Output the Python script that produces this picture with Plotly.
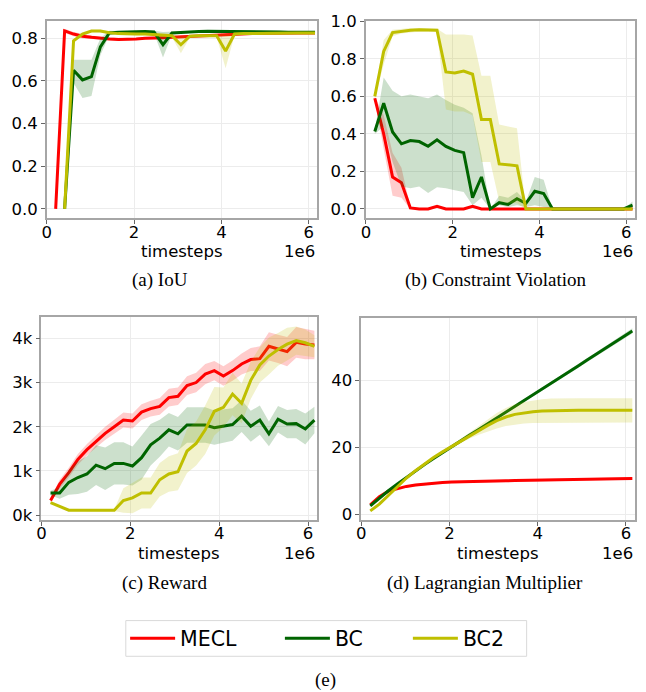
import plotly.graph_objects as go

# The page body has an 8px default margin, so the figure is drawn 8px in from the
# top-left corner; size it to fill the rest of the 646x692 window exactly.
OFF = 8
FIG_W, FIG_H = 646 - OFF, 692 - OFF
FONT = "DejaVu Sans"
SERIF = "Liberation Serif"

# ---------------- data ----------------
TIMESTEPS = [204800, 409600, 614400, 819200, 1024000, 1228800, 1433600, 1638400,
             1843200, 2048000, 2252800, 2457600, 2662400, 2867200, 3072000, 3276800,
             3481600, 3686400, 3891200, 4096000, 4300800, 4505600, 4710400, 4915200,
             5120000, 5324800, 5529600, 5734400, 5939200, 6144000]
X_TICKS = [0, 2000000, 4000000, 6000000]
X_TICK_LABELS = ["0", "2", "4", "6"]

METHODS = ["MECL", "BC", "BC2"]

IOU_TICKS = [0.0, 0.2, 0.4, 0.6, 0.8]
IOU_TICK_LABELS = ["0.0", "0.2", "0.4", "0.6", "0.8"]
CV_TICKS = [0.0, 0.2, 0.4, 0.6, 0.8, 1.0]
CV_TICK_LABELS = ["0.0", "0.2", "0.4", "0.6", "0.8", "1.0"]
REWARD_TICKS = [0, 1000, 2000, 3000, 4000]
REWARD_TICK_LABELS = ["0k", "1k", "2k", "3k", "4k"]
LAG_TICKS = [0, 20, 40]
LAG_TICK_LABELS = ["0", "20", "40"]

# (a) IoU
MECL_IOU = [0.0, 0.835, 0.82, 0.81, 0.805, 0.80, 0.797, 0.795, 0.795, 0.797, 0.80, 0.80, 0.803, 0.805, 0.807,
            0.81, 0.812, 0.815, 0.817, 0.82, 0.82, 0.822, 0.823, 0.824, 0.825, 0.825, 0.825, 0.825, 0.825, 0.825]
MECL_IOU_LO = [0.0, 0.825, 0.81, 0.80, 0.797, 0.793, 0.79, 0.79, 0.79, 0.792, 0.795, 0.795, 0.798, 0.80, 0.802,
               0.805, 0.807, 0.81, 0.812, 0.815, 0.815, 0.817, 0.818, 0.819, 0.82, 0.82, 0.82, 0.82, 0.82, 0.82]
MECL_IOU_HI = [0.0, 0.845, 0.83, 0.82, 0.813, 0.807, 0.804, 0.80, 0.80, 0.802, 0.805, 0.805, 0.808, 0.81, 0.812,
               0.815, 0.817, 0.82, 0.822, 0.825, 0.825, 0.827, 0.828, 0.829, 0.83, 0.83, 0.83, 0.83, 0.83, 0.83]
BC_IOU = [None, 0.0, 0.65, 0.605, 0.62, 0.76, 0.825, 0.828, 0.83, 0.83, 0.832, 0.83, 0.77, 0.825, 0.828,
          0.83, 0.832, 0.833, 0.833, 0.833, 0.833, 0.832, 0.831, 0.83, 0.83, 0.83, 0.829, 0.829, 0.829, 0.829]
BC_IOU_LO = [None, 0.0, 0.59, 0.52, 0.53, 0.72, 0.815, 0.822, 0.825, 0.825, 0.826, 0.824, 0.71, 0.818, 0.822,
             0.825, 0.827, 0.828, 0.828, 0.828, 0.828, 0.827, 0.826, 0.825, 0.825, 0.825, 0.824, 0.824, 0.824, 0.824]
BC_IOU_HI = [None, 0.0, 0.70, 0.70, 0.70, 0.80, 0.835, 0.834, 0.835, 0.835, 0.838, 0.836, 0.83, 0.832, 0.834,
             0.835, 0.837, 0.838, 0.838, 0.838, 0.838, 0.837, 0.836, 0.835, 0.835, 0.835, 0.834, 0.834, 0.834, 0.834]
BC2_IOU = [None, 0.0, 0.788, 0.82, 0.834, 0.834, 0.826, 0.822, 0.82, 0.82, 0.82, 0.818, 0.815, 0.812, 0.77,
           0.81, 0.812, 0.812, 0.812, 0.74, 0.82, 0.822, 0.823, 0.824, 0.825, 0.825, 0.825, 0.825, 0.825, 0.825]
BC2_IOU_LO = [None, 0.0, 0.78, 0.812, 0.828, 0.828, 0.82, 0.816, 0.814, 0.814, 0.814, 0.812, 0.808, 0.805, 0.73,
              0.804, 0.806, 0.806, 0.806, 0.66, 0.814, 0.816, 0.817, 0.818, 0.819, 0.819, 0.819, 0.819, 0.819, 0.819]
BC2_IOU_HI = [None, 0.0, 0.796, 0.828, 0.84, 0.84, 0.832, 0.828, 0.826, 0.826, 0.826, 0.824, 0.822, 0.819, 0.81,
              0.816, 0.818, 0.818, 0.818, 0.82, 0.826, 0.828, 0.829, 0.83, 0.831, 0.831, 0.831, 0.831, 0.831, 0.831]

# (b) Constraint Violation
MECL_CV = [0.59, 0.40, 0.17, 0.14, 0.005, 0.0, 0.0, 0.014, 0.0, 0.0, 0.0, 0.014, 0.0, 0.0, 0.0,
           0.0, 0.0, 0.0, 0.0, 0.0, 0.0, 0.0, 0.0, 0.0, 0.0, 0.0, 0.0, 0.0, 0.0, 0.0]
MECL_CV_LO = [0.58, 0.32, 0.07, 0.06, 0.0, 0.0, 0.0, 0.005, 0.0, 0.0, 0.0, 0.005, 0.0, 0.0, 0.0,
              0.0, 0.0, 0.0, 0.0, 0.0, 0.0, 0.0, 0.0, 0.0, 0.0, 0.0, 0.0, 0.0, 0.0, 0.0]
MECL_CV_HI = [0.60, 0.50, 0.30, 0.22, 0.01, 0.0, 0.0, 0.02, 0.0, 0.0, 0.0, 0.02, 0.0, 0.0, 0.0,
              0.0, 0.0, 0.0, 0.0, 0.0, 0.0, 0.0, 0.0, 0.0, 0.0, 0.0, 0.0, 0.0, 0.0, 0.0]
BC_CV = [0.413, 0.564, 0.41, 0.347, 0.364, 0.359, 0.334, 0.368, 0.333, 0.312, 0.30, 0.06, 0.17, 0.0, 0.033,
         0.024, 0.054, 0.03, 0.094, 0.082, 0.0, 0.0, 0.0, 0.0, 0.0, 0.0, 0.0, 0.0, 0.0, 0.02]
BC_CV_LO = [0.40, 0.44, 0.25, 0.12, 0.11, 0.12, 0.085, 0.115, 0.11, 0.10, 0.09, 0.02, 0.06, 0.0, 0.02,
            0.01, 0.02, 0.01, 0.02, 0.01, 0.0, 0.0, 0.0, 0.0, 0.0, 0.0, 0.0, 0.0, 0.0, 0.0]
BC_CV_HI = [0.42, 0.70, 0.63, 0.60, 0.61, 0.60, 0.59, 0.61, 0.58, 0.556, 0.54, 0.51, 0.285, 0.0, 0.07,
            0.06, 0.09, 0.04, 0.17, 0.155, 0.0, 0.0, 0.0, 0.0, 0.0, 0.0, 0.0, 0.0, 0.0, 0.04]
BC2_CV = [0.60, 0.84, 0.94, 0.948, 0.953, 0.955, 0.953, 0.953, 0.73, 0.725, 0.735, 0.718, 0.477, 0.477, 0.24,
          0.235, 0.23, 0.0, 0.0, 0.0, 0.0, 0.0, 0.0, 0.0, 0.0, 0.0, 0.0, 0.0, 0.0, 0.0]
BC2_CV_LO = [0.59, 0.77, 0.92, 0.935, 0.94, 0.945, 0.945, 0.945, 0.53, 0.52, 0.52, 0.50, 0.25, 0.25, 0.04,
             0.03, 0.03, 0.0, 0.0, 0.0, 0.0, 0.0, 0.0, 0.0, 0.0, 0.0, 0.0, 0.0, 0.0, 0.0]
BC2_CV_HI = [0.61, 0.90, 0.955, 0.96, 0.965, 0.965, 0.962, 0.96, 0.93, 0.93, 0.93, 0.925, 0.71, 0.71, 0.45,
             0.44, 0.43, 0.0, 0.0, 0.0, 0.0, 0.0, 0.0, 0.0, 0.0, 0.0, 0.0, 0.0, 0.0, 0.0]

# (c) Reward
MECL_R = [330, 700, 960, 1260, 1480, 1670, 1850, 2000, 2150, 2130, 2330, 2410, 2460, 2660, 2690,
          2930, 3000, 3190, 3270, 3150, 3270, 3420, 3520, 3540, 3820, 3760, 3700, 3910, 3870, 3850]
MECL_R_STD = [50, 100, 110, 120, 130, 140, 150, 160, 170, 170, 180, 180, 190, 200, 200,
              210, 220, 230, 220, 220, 230, 240, 260, 280, 320, 320, 330, 350, 340, 320]
BC_R = [500, 500, 740, 850, 930, 1130, 1050, 1170, 1170, 1110, 1300, 1590, 1740, 1930, 1840,
        2040, 2040, 2040, 1980, 2010, 2050, 2240, 2010, 2150, 1840, 2170, 2060, 2070, 1950, 2150]
BC_R_STD = [50, 130, 280, 370, 400, 450, 480, 480, 480, 440, 500, 470, 420, 380, 380,
            400, 400, 400, 390, 380, 370, 360, 350, 330, 280, 300, 320, 330, 350, 300]
BC2_R = [280, 200, 110, 110, 110, 100, 100, 110, 330, 390, 500, 500, 800, 930, 980,
         1450, 1620, 1930, 2350, 2440, 2740, 2530, 3050, 3400, 3600, 3750, 3870, 3950, 3900, 3820]
BC2_R_STD = [20, 20, 20, 20, 20, 20, 20, 20, 280, 350, 350, 350, 380, 400, 420,
             500, 500, 550, 550, 450, 480, 450, 420, 400, 420, 370, 370, 320, 300, 250]

# (d) Lagrangian Multiplier
MECL_L = [2.8, 5.2, 6.9, 7.7, 8.3, 8.7, 9.0, 9.25, 9.45, 9.6, 9.7, 9.8, 9.85, 9.9, 9.95,
          10.0, 10.05, 10.1, 10.15, 10.2, 10.25, 10.3, 10.35, 10.4, 10.45, 10.5, 10.55, 10.6, 10.65, 10.7]
MECL_L_STD = [0.2, 0.25, 0.3, 0.3, 0.3, 0.3, 0.3, 0.3, 0.3, 0.3, 0.3, 0.3, 0.3, 0.3, 0.3,
              0.3, 0.3, 0.3, 0.3, 0.3, 0.3, 0.3, 0.3, 0.3, 0.3, 0.3, 0.3, 0.3, 0.3, 0.3]
BC_L = [2.5, 4.8, 7.0, 9.0, 11.0, 12.9, 14.8, 16.6, 18.4, 20.1, 21.9, 23.6, 25.3, 27.0, 28.7,
        30.4, 32.1, 33.9, 35.6, 37.3, 39.0, 40.8, 42.5, 44.2, 46.0, 47.7, 49.5, 51.2, 53.0, 54.7]
BC_L_STD = [0.2, 0.2, 0.2, 0.2, 0.2, 0.2, 0.2, 0.25, 0.25, 0.25, 0.3, 0.3, 0.3, 0.35, 0.35,
            0.4, 0.4, 0.45, 0.45, 0.5, 0.5, 0.55, 0.55, 0.6, 0.6, 0.65, 0.65, 0.7, 0.75, 0.8]
BC2_L = [1.0, 3.0, 5.6, 8.3, 10.8, 13.0, 15.0, 16.9, 18.6, 20.2, 21.9, 23.5, 25.0, 26.5, 27.9,
         29.0, 29.8, 30.3, 30.6, 30.8, 30.9, 31.0, 31.0, 31.0, 31.0, 31.0, 31.0, 31.0, 31.0, 31.0]
BC2_L_STD = [0.2, 0.2, 0.2, 0.2, 0.2, 0.2, 0.2, 0.2, 0.3, 0.4, 0.6, 0.9, 1.3, 1.8, 2.3,
             2.7, 3.0, 3.2, 3.4, 3.5, 3.6, 3.6, 3.6, 3.6, 3.6, 3.6, 3.6, 3.6, 3.6, 3.6]

CAPTIONS = ["(a) IoU", "(b) Constraint Violation", "(c) Reward", "(d) Lagrangian Multiplier", "(e)"]

# ---------------- styles ----------------
LINE_COLORS = {"MECL": "#ff0000", "BC": "#006400", "BC2": "#bfbf00"}
FILL_COLORS = {"MECL": "rgba(255,0,0,0.2)", "BC": "rgba(0,100,0,0.2)", "BC2": "rgba(191,191,0,0.2)"}
SPINE = "#a6a6a6"
GRID = "#ececec"


def px_x(p):
    """window pixel -> paper x"""
    return (p - OFF) / FIG_W


def px_y(p):
    """window pixel -> paper y"""
    return 1 - (p - OFF) / FIG_H


fig = go.Figure()


def add_series(axn, method, mean, lo, hi, legend=None):
    xs, ms, ls, hs = [], [], [], []
    for x, m, l, h in zip(TIMESTEPS, mean, lo, hi):
        if m is None:
            continue
        xs.append(x); ms.append(m); ls.append(l); hs.append(h)
    xa = "x" if axn == 1 else f"x{axn}"
    ya = "y" if axn == 1 else f"y{axn}"
    fig.add_trace(go.Scatter(x=xs + xs[::-1], y=hs + ls[::-1], fill="toself",
                             fillcolor=FILL_COLORS[method], line=dict(width=0),
                             mode="lines", hoverinfo="skip", showlegend=False,
                             xaxis=xa, yaxis=ya))
    fig.add_trace(go.Scatter(x=xs, y=ms, mode="lines", name=method,
                             line=dict(color=LINE_COLORS[method], width=3),
                             showlegend=legend is not None, legend=legend or "legend",
                             xaxis=xa, yaxis=ya))


def sym(mean, std):
    return [m - s for m, s in zip(mean, std)], [m + s for m, s in zip(mean, std)]


add_series(1, "MECL", MECL_IOU, MECL_IOU_LO, MECL_IOU_HI, legend="legend")
add_series(1, "BC", BC_IOU, BC_IOU_LO, BC_IOU_HI, legend="legend2")
add_series(1, "BC2", BC2_IOU, BC2_IOU_LO, BC2_IOU_HI, legend="legend3")

add_series(2, "MECL", MECL_CV, MECL_CV_LO, MECL_CV_HI)
add_series(2, "BC", BC_CV, BC_CV_LO, BC_CV_HI)
add_series(2, "BC2", BC2_CV, BC2_CV_LO, BC2_CV_HI)

add_series(3, "MECL", MECL_R, *sym(MECL_R, MECL_R_STD))
add_series(3, "BC", BC_R, *sym(BC_R, BC_R_STD))
add_series(3, "BC2", BC2_R, *sym(BC2_R, BC2_R_STD))

add_series(4, "MECL", MECL_L, *sym(MECL_L, MECL_L_STD))
add_series(4, "BC", BC_L, *sym(BC_L, BC_L_STD))
add_series(4, "BC2", BC2_L, *sym(BC2_L, BC2_L_STD))

# panel geometry in window pixels: (left, right, top, bottom)
PANELS = [
    (42.0, 314.0, 12.7, 214.0),
    (363.7, 635.3, 12.7, 214.0),
    (36.7, 314.3, 315.0, 521.7),
    (359.0, 634.7, 316.0, 521.7),
]
Y_RANGES = [[-0.043, 0.883], [-0.049, 1.004], [-110, 4480], [-1.7, 58.5]]
X_RANGES = [[0, 6.18e6], [0, 6.21e6], [0, 6.2e6], [0, 6.2e6]]
Y_TICKS = [(IOU_TICKS, IOU_TICK_LABELS), (CV_TICKS, CV_TICK_LABELS),
           (REWARD_TICKS, REWARD_TICK_LABELS), (LAG_TICKS, LAG_TICK_LABELS)]

axis_common = dict(showline=True, mirror=True, linecolor=SPINE, linewidth=1.5,
                   ticks="outside", ticklen=4, tickwidth=1, tickcolor="#666666",
                   showgrid=True, gridcolor=GRID, gridwidth=1, zeroline=False,
                   ticklabeloverflow="allow",
                   tickfont=dict(family=FONT, size=16.5, color="black"))

layout_axes = {}
annotations = []
for i, ((l, r, t, b), yr, xr, (tv, tt)) in enumerate(zip(PANELS, Y_RANGES, X_RANGES, Y_TICKS)):
    n = i + 1
    xk = "xaxis" if n == 1 else f"xaxis{n}"
    yk = "yaxis" if n == 1 else f"yaxis{n}"
    layout_axes[xk] = dict(domain=[px_x(l), px_x(r)], range=xr, tickvals=X_TICKS,
                           ticktext=X_TICK_LABELS, anchor="y" if n == 1 else f"y{n}",
                           ticklabelstandoff=-6, **axis_common)
    layout_axes[yk] = dict(domain=[px_y(b), px_y(t)], range=yr, tickvals=tv,
                           ticktext=tt, anchor="x" if n == 1 else f"x{n}",
                           **axis_common)
    annotations.append(dict(text="timesteps", x=px_x((l + r) / 2), y=px_y(b + 34),
                            xref="paper", yref="paper", xanchor="center", yanchor="middle",
                            showarrow=False, font=dict(family=FONT, size=16.5, color="black")))
    annotations.append(dict(text="1e6", x=px_x(r), y=px_y(b + 34.5),
                            xref="paper", yref="paper", xanchor="right", yanchor="middle",
                            showarrow=False, font=dict(family=FONT, size=16.5, color="black")))

CAPTION_POS = [(156, 277), (494.7, 277), (161, 586), (484, 585.5), (323.3, 685)]
for txt, (cx, cy) in zip(CAPTIONS, CAPTION_POS):
    annotations.append(dict(text=txt, x=px_x(cx), y=px_y(cy), xref="paper", yref="paper",
                            xanchor="center", yanchor="middle", showarrow=False,
                            font=dict(family=SERIF, size=19, color="black")))

legend_common = dict(orientation="h", yanchor="middle", xanchor="left",
                     bgcolor="rgba(0,0,0,0)", borderwidth=0, itemwidth=45,
                     font=dict(family=FONT, size=20.5, color="black"))

fig.update_layout(
    width=FIG_W, height=FIG_H,
    margin=dict(l=0, r=0, t=0, b=0),
    paper_bgcolor="white", plot_bgcolor="white",
    annotations=annotations,
    legend=dict(x=px_x(121), y=px_y(642.5), **legend_common),
    legend2=dict(x=px_x(277), y=px_y(642.5), **legend_common),
    legend3=dict(x=px_x(406), y=px_y(642.5), **legend_common),
    shapes=[dict(type="rect", xref="paper", yref="paper",
                 x0=px_x(121.7), x1=px_x(525.7), y0=px_y(660.7), y1=px_y(624.3),
                 line=dict(color="#d9d9d9", width=1), fillcolor="rgba(0,0,0,0)", layer="below")],
    **layout_axes,
)

fig.write_html("out.html")
